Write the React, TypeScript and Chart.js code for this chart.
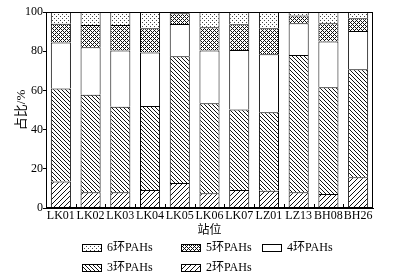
import React, { useEffect, useRef } from "react";
import { Chart, registerables } from "chart.js";

Chart.register(...registerables);

const stations = ["LK01", "LK02", "LK03", "LK04", "LK05", "LK06", "LK07", "LZ01", "LZ13", "BH08", "BH26"];
const ring2 = [13.5, 8, 8, 9.2, 12.8, 7.5, 9.2, 8.8, 8, 7.1, 15.7];
const ring3 = [47.5, 49.8, 43.7, 42.8, 64.6, 45.9, 41.1, 40, 70, 54.5, 55.1];
const ring4 = [23.5, 24.2, 28.7, 27.4, 16.5, 27, 30.3, 29.6, 16.2, 23.4, 19.5];
const ring5 = [9.5, 11.4, 13, 12.3, 5.4, 11.8, 13.1, 13.3, 4, 9.2, 6.5];
const ring6 = [6, 6.6, 6.6, 8.3, 0.7, 7.8, 6.3, 8.3, 1.8, 5.8, 3.2];
const seriesLabels = ["2环PAHs", "3环PAHs", "4环PAHs", "5环PAHs", "6环PAHs"];
const yTicks = [0, 20, 40, 60, 80, 100];
const yTitle = "占比/%";
const xTitle = "站位";

const SERIF = '"Liberation Serif", "Times New Roman", "Noto Sans CJK SC", serif';

function makePattern(size: number, on: (x: number, y: number) => boolean, color = "#000") {
  const c = document.createElement("canvas");
  c.width = size;
  c.height = size;
  const g = c.getContext("2d")!;
  g.fillStyle = "#fff";
  g.fillRect(0, 0, size, size);
  g.fillStyle = color;
  for (let y = 0; y < size; y++) {
    for (let x = 0; x < size; x++) {
      if (on(x, y)) g.fillRect(x, y, 1, 1);
    }
  }
  return g.createPattern(c, "repeat")!;
}

export default function App() {
  const ref = useRef<HTMLCanvasElement | null>(null);

  useEffect(() => {
    const canvas = ref.current!;
    const mod = (a: number, n: number) => ((a % n) + n) % n;
    const p2 = makePattern(5, (x, y) => mod(x + y, 5) === 0, "#111");
    const p3 = makePattern(4, (x, y) => mod(x - y, 4) === 0, "#111");
    const p4 = "#ffffff";
    const p5 = makePattern(4, (x, y) => mod(x + y, 4) === 0 || mod(x - y, 4) === 0, "#111");
    const p6 = makePattern(4, (x, y) => (x === 0 && y === 0) || (x === 2 && y === 2), "#444");
    const fills = [p2, p3, p4, p5, p6];
    const values = [ring2, ring3, ring4, ring5, ring6];

    const framePlugin = {
      id: "frame",
      afterDatasetsDraw(chart: any) {
        const { ctx, chartArea } = chart;
        const { left, right, top, bottom } = chartArea;
        ctx.save();
        ctx.strokeStyle = "#000";
        ctx.lineWidth = 1;
        ctx.strokeRect(Math.round(left) + 0.5, Math.round(top) + 0.5, Math.round(right - left) - 1, Math.round(bottom - top) - 1);
        const n = stations.length;
        const w = (right - left) / n;
        ctx.beginPath();
        for (let i = 1; i < n; i++) {
          const x = Math.round(left + i * w) + 0.5;
          ctx.moveTo(x, Math.round(bottom));
          ctx.lineTo(x, Math.round(bottom) - 4);
        }
        ctx.stroke();
        // y axis title
        ctx.fillStyle = "#000";
        ctx.font = `13px ${SERIF}`;
        ctx.textAlign = "center";
        ctx.textBaseline = "middle";
        ctx.translate(22, (top + bottom) / 2);
        ctx.rotate(-Math.PI / 2);
        ctx.fillText(yTitle, 0, 0);
        ctx.restore();
      },
    };

    const legendPlugin = {
      id: "customLegend",
      afterDraw(chart: any) {
        const { ctx } = chart;
        const items = [
          { ds: 4, x: 82, y: 247.5 },
          { ds: 3, x: 181, y: 247.5 },
          { ds: 2, x: 262, y: 247.5 },
          { ds: 1, x: 82, y: 267.5 },
          { ds: 0, x: 181, y: 267.5 },
        ];
        ctx.save();
        ctx.font = `12px ${SERIF}`;
        ctx.textBaseline = "middle";
        ctx.textAlign = "left";
        for (const it of items) {
          const ds = chart.data.datasets[it.ds];
          const bx = it.x + 0.5;
          const by = Math.round(it.y - 4) + 0.5;
          ctx.fillStyle = ds.backgroundColor;
          ctx.fillRect(bx, by, 19, 7);
          ctx.strokeStyle = "#000";
          ctx.lineWidth = 1;
          ctx.strokeRect(bx, by, 19, 7);
          ctx.fillStyle = "#000";
          ctx.fillText(ds.label, it.x + 25, it.y);
        }
        ctx.restore();
      },
    };

    const chart = new Chart(canvas, {
      type: "bar",
      data: {
        labels: stations,
        datasets: values.map((v, i) => ({
          label: seriesLabels[i],
          data: v,
          backgroundColor: fills[i] as any,
          borderColor: "#000",
          borderWidth: 1,
          categoryPercentage: 1,
          barPercentage: 0.675,
          inflateAmount: 0,
        })),
      },
      options: {
        animation: false,
        responsive: false,
        maintainAspectRatio: false,
        layout: { padding: { top: 12, right: 27, bottom: 42, left: 0 } },
        plugins: {
          legend: { display: false },
          tooltip: { enabled: false },
        },
        scales: {
          x: {
            stacked: true,
            grid: { display: false, drawTicks: false },
            border: { display: true, color: "#000", width: 1 },
            ticks: {
              color: "#000",
              font: { family: SERIF, size: 12 },
              padding: 1,
              maxRotation: 0,
              autoSkip: false,
            },
            title: {
              display: true,
              text: xTitle,
              color: "#000",
              font: { family: SERIF, size: 12 },
              padding: { top: 0, bottom: 0 },
            },
            afterFit(scale: any) {
              scale.height = 30;
            },
          },
          y: {
            stacked: true,
            min: 0,
            max: 100,
            afterBuildTicks(scale: any) {
              scale.ticks = yTicks.map((v) => ({ value: v }));
            },
            grid: { drawOnChartArea: false, drawTicks: true, tickLength: 3, color: "#000" },
            border: { display: true, color: "#000", width: 1 },
            ticks: {
              color: "#000",
              font: { family: SERIF, size: 12 },
              padding: 0,
            },
            title: { display: false },
            afterFit(scale: any) {
              scale.width = 46;
            },
          },
        },
      },
      plugins: [framePlugin, legendPlugin],
    });

    return () => chart.destroy();
  }, []);

  return (
    <div style={{ position: "fixed", left: 0, top: 0, width: 400, height: 280, background: "#fff" }}>
      <canvas ref={ref} width={400} height={280} style={{ display: "block", width: 400, height: 280 }} />
    </div>
  );
}
